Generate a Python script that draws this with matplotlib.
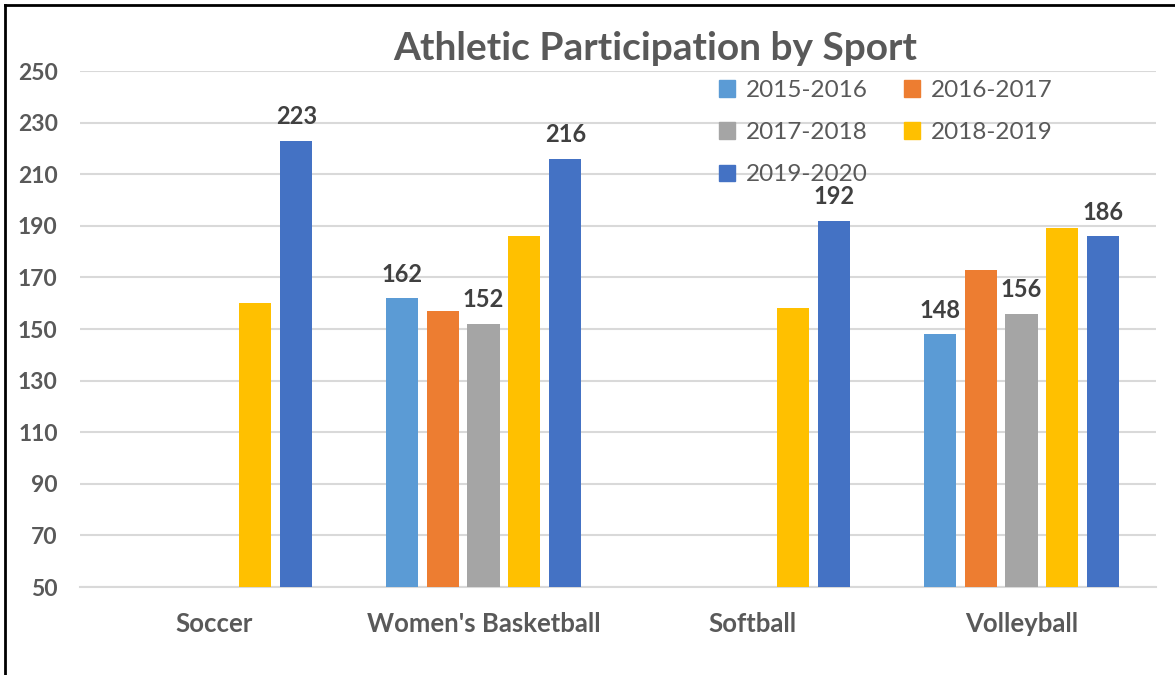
import numpy as np
import matplotlib
matplotlib.use("Agg")
import matplotlib.pyplot as plt
from matplotlib.patches import Patch
from matplotlib.lines import Line2D

plt.rcParams['font.family'] = ['Lato', 'DejaVu Sans']

sports = ["Soccer", "Women's Basketball", "Softball", "Volleyball"]
seasons = ["2015-2016", "2016-2017", "2017-2018", "2018-2019", "2019-2020"]
v_2015 = [np.nan, 162, np.nan, 148]
v_2016 = [np.nan, 157, np.nan, 173]
v_2017 = [np.nan, 152, np.nan, 156]
v_2018 = [160, 186, 158, 189]
v_2019 = [223, 216, 192, 186]
values = [v_2015, v_2016, v_2017, v_2018, v_2019]
# which bars carry a data label in the original
shown = [[False, True, False, True],
         [False, False, False, False],
         [False, True, False, True],
         [False, False, False, False],
         [True, True, True, True]]
colors = ["#5B9BD5", "#ED7D31", "#A5A5A5", "#FFC000", "#4472C4"]

fig = plt.figure(figsize=(11.75, 6.75), dpi=100)
ax = fig.add_axes([80/1175, 1-587/675, 1076/1175, 516/675])

x = np.arange(len(sports))
step = 0.152
width = 0.119
for i, (vals, c) in enumerate(zip(values, colors)):
    pos = x + (i - 2) * step
    ax.bar(pos, np.array(vals, dtype=float) - 50, width, bottom=50, color=c, zorder=3)
    for p, v, s in zip(pos, vals, shown[i]):
        if s and not np.isnan(v):
            ax.annotate(f"{v:.0f}", (p, v), xytext=(0, 9), textcoords="offset points",
                        ha="center", va="bottom", fontsize=17, fontweight="bold",
                        color="#404040")

ax.set_xlim(-0.5, len(sports) - 0.5)
ax.set_ylim(50, 250)
ax.set_yticks(np.arange(50, 251, 20))
ax.set_xticks(x)
ax.set_xticklabels(sports)
ax.yaxis.grid(True, color="#D9D9D9", linewidth=1.5, zorder=0)
ax.set_axisbelow(True)
for s in ["top", "right", "left"]:
    ax.spines[s].set_visible(False)
ax.spines["bottom"].set_color("#D9D9D9")
ax.spines["bottom"].set_linewidth(1.5)
ax.tick_params(length=0, colors="#595959")
ax.tick_params(axis="x", pad=18, labelsize=18.5)
ax.tick_params(axis="y", pad=16, labelsize=16.5)
for lbl in ax.get_xticklabels() + ax.get_yticklabels():
    lbl.set_fontweight("bold")

fig.text(655/1175, 1-48/675, "Athletic Participation by Sport", ha="center", va="center",
         fontsize=28, fontweight="bold", color="#595959")

# legend is filled row by row in the original, matplotlib fills by column
order = [0, 2, 4, 1, 3]
handles = [Patch(color=colors[k]) for k in order]
labels = [seasons[k] for k in order]
fig.legend(handles, labels, ncol=2, loc="upper left", bbox_to_anchor=(719/1175, 1-80/675),
           frameon=False, fontsize=17.5, handlelength=0.65, handleheight=0.65,
           handletextpad=0.45, columnspacing=1.5, labelspacing=0.87,
           borderpad=0, borderaxespad=0, labelcolor="#595959")

fig.add_artist(Line2D([5/1175, 5/1175], [0, 1-5/675], color="black", linewidth=2))
fig.add_artist(Line2D([5/1175, 1], [1-5/675, 1-5/675], color="black", linewidth=2))

fig.savefig("out.png", dpi=100)
